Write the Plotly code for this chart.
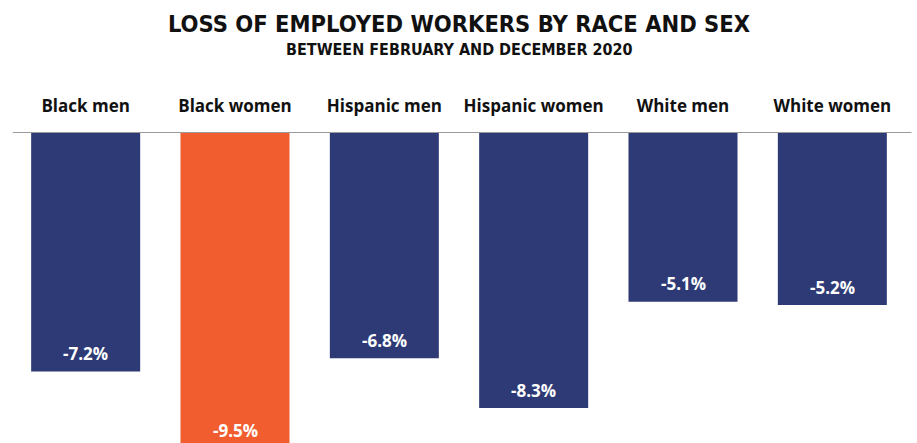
import plotly.graph_objects as go

categories = ["Black men", "Black women", "Hispanic men", "Hispanic women", "White men", "White women"]
values = [-7.2, -9.5, -6.8, -8.3, -5.1, -5.2]
colors = ["#2E3A75", "#F15D2F", "#2E3A75", "#2E3A75", "#2E3A75", "#2E3A75"]
labels = [f"<b>{v:.1f}%</b>" for v in values]

fig = go.Figure()
fig.add_trace(go.Bar(
    x=categories, y=values,
    marker=dict(color=colors, line=dict(width=0)),
    width=0.73,
    hoverinfo="skip",
))

# value labels sit a little above the end of each bar; the text is placed at the
# (invisible) arrow tail so the label of the clipped bar stays visible
label_offset = 0.54  # in axis units (~18 px)
for c, v, t in zip(categories, values, labels):
    fig.add_annotation(
        x=c, y=v, xref="x", yref="y",
        ax=0, axref="pixel", ay=v + label_offset, ayref="y",
        showarrow=True, arrowcolor="rgba(0,0,0,0)", arrowwidth=0.1, arrowhead=0,
        text=t, yanchor="middle",
        font=dict(family="Open Sans", size=17, color="white"),
    )

fig.add_shape(type="line", xref="paper", yref="y", x0=0.002, x1=1.005, y0=0, y1=0,
              line=dict(color="#9a9a9a", width=2), layer="above")

height = 443
top = 132
fig.update_layout(
    width=917, height=height,
    margin=dict(l=11, r=10, t=top, b=0),
    paper_bgcolor="white", plot_bgcolor="white",
    showlegend=False,
    title=dict(
        text="<b>LOSS OF EMPLOYED WORKERS BY RACE AND SEX</b>",
        x=0.5, xanchor="center", xref="paper",
        y=1 - 24 / height, yanchor="middle", yref="container",
        font=dict(family="DejaVu Sans Condensed", size=23.5, color="#111111"),
    ),
    xaxis=dict(
        side="top", showgrid=False, zeroline=False, showline=False, ticks="",
        tickfont=dict(family="Open Sans", size=17, color="#111111", weight="bold"),
        ticklabelstandoff=16, fixedrange=True,
    ),
    yaxis=dict(range=[-9.35, 0], visible=False, showgrid=False, zeroline=False, fixedrange=True),
)

fig.add_annotation(
    xref="paper", yref="paper", x=0.5, y=1 + (top - 50) / (height - top), yanchor="middle",
    text="<b>BETWEEN FEBRUARY AND DECEMBER 2020</b>", showarrow=False,
    font=dict(family="DejaVu Sans Condensed", size=16, color="#111111"),
)

fig.write_html("out.html")
